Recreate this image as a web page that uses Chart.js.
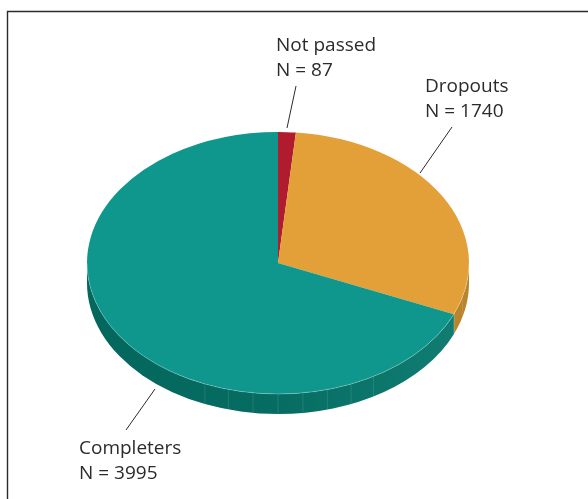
<!DOCTYPE html>
<html>
<head>
<meta charset="utf-8">
<title>Pie</title>
<script src="https://cdn.jsdelivr.net/npm/chart.js@4"></script>
<style>
    html, body { margin: 0; padding: 0; background: #fff; }
    canvas { display: block; }
</style>
</head>
<body>
<canvas id="pieChart" width="588" height="499" style="width: 588px; height: 499px;"></canvas>
<script>
var categories = ["Not passed", "Dropouts", "Completers"];
var counts = [87, 1740, 3995];
var sliceColors = ["#b01c2e", "#e3a038", "#10978d"];

var squash = 131 / 191;
var depth = 20;

function sideFill(ctx, index, cx, rx) {
    if (index === 1) {
        return "#b8842c";
    }
    var g = ctx.createLinearGradient(cx - rx, 0, cx + rx, 0);
    g.addColorStop(0, "#03675d");
    g.addColorStop(0.45, "#066b61");
    g.addColorStop(1, "#117e73");
    return g;
}

// Rim below the disc, taken from the arc elements the library has laid out
var rimPlugin = {
    id: "rim",
    beforeDatasetsDraw: function (chart) {
        var ctx = chart.ctx;
        var arcs = chart.getDatasetMeta(0).data;
        ctx.save();
        arcs.forEach(function (arc, i) {
            var a0 = Math.max(arc.startAngle, 0);
            var a1 = Math.min(arc.endAngle, Math.PI);
            if (a1 <= a0) {
                return;
            }
            var rx = arc.outerRadius;
            var ry = rx * squash;
            ctx.beginPath();
            ctx.ellipse(arc.x, arc.y, rx, ry, 0, a0, a1);
            ctx.ellipse(arc.x, arc.y + depth, rx, ry, 0, a1, a0, true);
            ctx.closePath();
            ctx.fillStyle = sideFill(ctx, i, arc.x, rx);
            ctx.fill();

            // panel seams on the rim, only on the front part
            ctx.lineWidth = 0.7;
            ctx.strokeStyle = "rgba(255,255,255,0.16)";
            for (var deg = 15; deg < 116; deg += 7.5) {
                var a = deg * Math.PI / 180;
                if (a <= a0 || a >= a1 || (i === 2 && deg < 60)) {
                    continue;
                }
                var x = arc.x + rx * Math.cos(a);
                var y = arc.y + ry * Math.sin(a);
                ctx.beginPath();
                ctx.moveTo(x, y);
                ctx.lineTo(x, y + depth);
                ctx.stroke();
            }
        });
        ctx.restore();

        var first = arcs[0];
        ctx.save();
        ctx.translate(first.x, first.y);
        ctx.scale(1, squash);
        ctx.translate(-first.x, -first.y);
    },
    afterDatasetsDraw: function (chart) {
        var ctx = chart.ctx;
        ctx.restore();
        var arc = chart.getDatasetMeta(0).data[0];
        ctx.save();
        ctx.beginPath();
        ctx.ellipse(arc.x, arc.y, arc.outerRadius, arc.outerRadius * squash, 0, 0, Math.PI);
        ctx.lineWidth = 0.7;
        ctx.strokeStyle = "rgba(255,255,255,0.35)";
        ctx.stroke();
        ctx.restore();
    }
};

// Frame, leader lines and the two-line labels
var notesPlugin = {
    id: "notes",
    afterDraw: function (chart) {
        var ctx = chart.ctx;
        ctx.save();
        ctx.strokeStyle = "#2b2b2b";
        ctx.lineWidth = 1.4;
        ctx.beginPath();
        ctx.moveTo(7.5, 499);
        ctx.lineTo(7.5, 11.5);
        ctx.lineTo(588, 11.5);
        ctx.stroke();

        ctx.lineWidth = 1;
        [[296, 86, 287, 128], [452, 127, 420, 173], [155, 389, 126, 430]].forEach(function (l) {
            ctx.beginPath();
            ctx.moveTo(l[0], l[1]);
            ctx.lineTo(l[2], l[3]);
            ctx.stroke();
        });

        ctx.fillStyle = "#2b2b2b";
        ctx.font = "19px 'Open Sans'";
        ctx.textBaseline = "alphabetic";
        var spots = [[276, 51], [425, 92], [79, 454]];
        categories.forEach(function (name, i) {
            ctx.fillText(name, spots[i][0], spots[i][1]);
            ctx.fillText("N = " + counts[i], spots[i][0], spots[i][1] + 25);
        });
        ctx.restore();
    }
};

var ctx = document.getElementById("pieChart").getContext("2d");
new Chart(ctx, {
    type: "pie",
    data: {
        labels: categories,
        datasets: [{
            data: counts,
            backgroundColor: sliceColors,
            borderWidth: 0
        }]
    },
    options: {
        responsive: false,
        animation: false,
        layout: { padding: { left: 87, right: 119, top: 72, bottom: 45 } },
        plugins: {
            legend: { display: false },
            tooltip: { enabled: false }
        }
    },
    plugins: [rimPlugin, notesPlugin]
});
</script>
</body>
</html>
